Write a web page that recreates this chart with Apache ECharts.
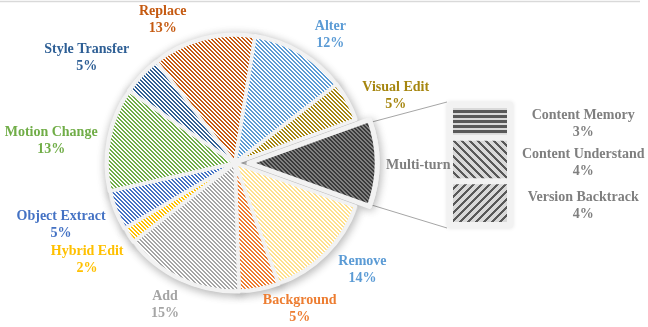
<!DOCTYPE html>
<html>
<head>
<meta charset="utf-8">
<script src="https://cdn.jsdelivr.net/npm/echarts@6/dist/echarts.min.js"></script>
<style>html,body{margin:0;padding:0;background:#fff;}#c{width:648px;height:327px;}</style>
</head>
<body>
<div id="c"></div>
<script>
// ---- data ----
const categories = ['Replace', 'Alter', 'Visual Edit', 'Multi-turn', 'Remove', 'Background', 'Add', 'Hybrid Edit', 'Object Extract', 'Motion Change', 'Style Transfer'];
const values = [13, 12, 5, 11, 14, 5, 15, 2, 5, 13, 5];
const subCategories = ['Content Memory', 'Content Understand', 'Version Backtrack'];
const subValues = [3, 4, 4];

// ---- styles ----
const sliceColors = ['#C55A11', '#5B9BD5', '#A6860F', '#3F3F3F', '#FFE08C', '#ED7D31', '#A5A5A5', '#FFC000', '#4472C4', '#70AD47', '#2E5F95'];
const labelColors = ['#C55A11', '#5B9BD5', '#A6860F', '#7F7F7F', '#5B9BD5', '#ED7D31', '#A5A5A5', '#FFC000', '#4472C4', '#70AD47', '#2E5F95'];
// label placement tweaks (degrees, as the labels were spread apart in the original)
const labelAngleNudge = [-12, 6, 6, 0, -5, -12, 1, 1, 2, -4, -8];
const multiIndex = categories.indexOf('Multi-turn');

const FONT = 'Liberation Serif';
const W = 648, H = 327;
const cx = 235, cy = 163, R = 128, selOff = 14, labelGap = 9;
const total = values.reduce((a, b) => a + b, 0);
const multiStartFrac = values.slice(0, multiIndex).reduce((a, b) => a + b, 0) / total;
const multiFrac = values[multiIndex] / total;
// center the Multi-turn slice at 3 o'clock (90deg clockwise from 12)
const startCW = 90 - (multiStartFrac + multiFrac / 2) * 360; // clockwise from top
const startAngle = 90 - startCW;

// mid angles (deg clockwise from top)
const midAngles = [];
{ let acc = 0; values.forEach(v => { midAngles.push(startCW + (acc + v / 2) / total * 360); acc += v; }); }

function pattern(size, fg, bg, test) {
  const c = document.createElement('canvas');
  c.width = size; c.height = size;
  const g = c.getContext('2d');
  g.fillStyle = bg; g.fillRect(0, 0, size, size);
  g.fillStyle = fg;
  for (let y = 0; y < size; y++) for (let x = 0; x < size; x++) if (test(x, y)) g.fillRect(x, y, 1, 1);
  return { image: c, repeat: 'repeat' };
}
const diag4 = (x, y) => (((x - y) % 4) + 4) % 4 < 2;

const pieData = categories.map((name, i) => {
  const isMulti = i === multiIndex;
  return {
    name, value: values[i], selected: isMulti,
    itemStyle: {
      color: isMulti ? pattern(4, '#3A3A3A', '#808080', diag4) : pattern(4, sliceColors[i], '#FFFFFF', diag4),
      borderColor: '#F2F2F2', borderWidth: isMulti ? 5 : 3.5
    },
    label: { show: !isMulti, color: labelColors[i], formatter: '{b}\n{c}%' }
  };
});
const backData = categories.map((name, i) => ({ name, value: values[i], selected: i === multiIndex }));

// bar (breakdown of Multi-turn)
const barLeft = 450, barTop = 105, barW = 60, barH = 120;
const subPatterns = [
  pattern(5, '#595959', '#D9D9D9', (x, y) => y < 3),
  pattern(8, '#595959', '#D9D9D9', (x, y) => ((((x - y) % 8) + 8) % 8) < 3),
  pattern(8, '#595959', '#D9D9D9', (x, y) => (((x + y) % 8)) < 3)
];
const barSeries = [];
for (let k = subCategories.length - 1; k >= 0; k--) {
  barSeries.push({
    type: 'bar', name: subCategories[k], stack: 'mt', data: [subValues[k]],
    xAxisIndex: 0, yAxisIndex: 0, barWidth: '100%', silent: true, z: 2,
    itemStyle: { color: subPatterns[k], borderColor: '#F2F2F2', borderWidth: 3 },
    label: {
      show: true, position: ['222%', '50%'], offset: [0, 3], align: 'center', verticalAlign: 'middle',
      formatter: '{a}\n{c}%', color: '#7F7F7F', fontFamily: FONT, fontWeight: 'bold', fontSize: 14, lineHeight: 17
    }
  });
}

// connector lines from exploded slice corners to the bar panel
const a1 = (90 - multiFrac * 180) * Math.PI / 180, a2 = (90 + multiFrac * 180) * Math.PI / 180;
const p1 = [cx + selOff + R * Math.sin(a1), cy - R * Math.cos(a1)];
const p2 = [cx + selOff + R * Math.sin(a2), cy - R * Math.cos(a2)];
const multiAng = midAngles[multiIndex] * Math.PI / 180;

const chart = echarts.init(document.getElementById('c'), null, { renderer: 'canvas' });
chart.setOption({
  backgroundColor: '#FFFFFF',
  animation: false,
  grid: { left: barLeft, top: barTop, width: barW, height: barH },
  xAxis: { type: 'category', data: ['Multi-turn'], show: false },
  yAxis: { type: 'value', min: 0, max: subValues.reduce((a, b) => a + b, 0), show: false },
  graphic: [
    { type: 'line', shape: { x1: 0, y1: 1.5, x2: 640, y2: 1.5 }, style: { stroke: '#D9D9D9', lineWidth: 1.5 }, silent: true },
    { type: 'rect', shape: { x: barLeft - 3, y: barTop - 3, width: barW + 6, height: barH + 6, r: 2 }, style: { fill: '#F2F2F2', shadowBlur: 4, shadowColor: 'rgba(0,0,0,0.12)' }, silent: true, z: 0 },
    { type: 'line', shape: { x1: p1[0], y1: p1[1] + 3, x2: barLeft - 3, y2: barTop - 3 }, style: { stroke: '#A6A6A6', lineWidth: 1 }, silent: true, z: 0 },
    { type: 'line', shape: { x1: p2[0], y1: p2[1] - 2, x2: barLeft - 3, y2: barTop + barH + 3 }, style: { stroke: '#A6A6A6', lineWidth: 1 }, silent: true, z: 0 },
    {
      type: 'text', silent: true, z: 10,
      x: cx + selOff + (R + labelGap) * Math.sin(multiAng), y: cy - (R + labelGap) * Math.cos(multiAng) + 2,
      style: {
        text: categories[multiIndex], fill: labelColors[multiIndex], font: 'bold 14px "' + FONT + '"',
        textAlign: 'left', textVerticalAlign: 'middle', verticalAlign: 'middle'
      }
    }
  ],
  series: [
    {
      type: 'pie', z: 1, silent: true, center: [cx, cy], radius: R + 1, startAngle, clockwise: true,
      selectedMode: 'single', selectedOffset: selOff,
      label: { show: false }, labelLine: { show: false },
      itemStyle: { color: '#F2F2F2', borderColor: '#F2F2F2', borderWidth: 3, shadowBlur: 10, shadowColor: 'rgba(0,0,0,0.28)', shadowOffsetX: 1, shadowOffsetY: 2 },
      data: backData
    },
    {
      type: 'pie', z: 3, silent: true, center: [cx, cy], radius: R, startAngle, clockwise: true,
      selectedMode: 'single', selectedOffset: selOff, avoidLabelOverlap: false,
      label: { show: true, position: 'outside', fontFamily: FONT, fontWeight: 'bold', fontSize: 14, lineHeight: 17, align: 'center' },
      labelLine: { show: false },
      labelLayout: function (p) {
        const i = p.dataIndex;
        const ang = (midAngles[i] + labelAngleNudge[i]) * Math.PI / 180;
        const dx = Math.sin(ang), dy = -Math.cos(ang);
        const w = p.labelRect.width, h = p.labelRect.height;
        const support = Math.abs(dx) * w / 2 + Math.abs(dy) * h / 2;
        const dist = R + labelGap + support;
        let x = cx + dist * dx, y = cy + dist * dy;
        y = Math.max(h / 2 + 3, Math.min(H - h / 2 - 1, y));
        return { x, y, align: 'center', verticalAlign: 'middle' };
      },
      data: pieData
    }
  ].concat(barSeries)
});
</script>
</body>
</html>
